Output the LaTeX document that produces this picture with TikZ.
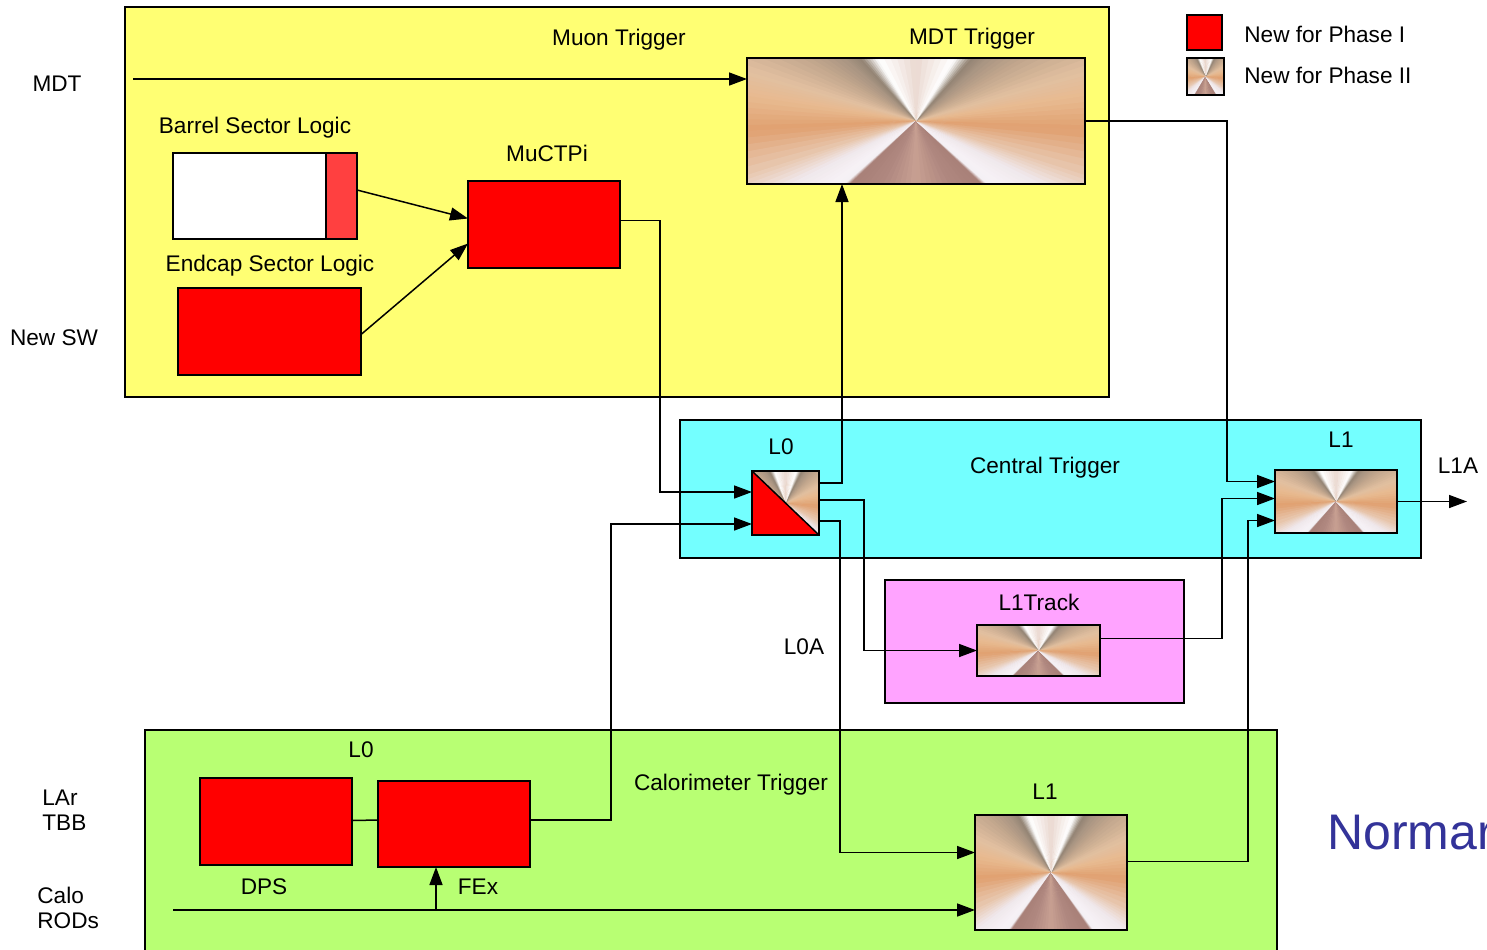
\documentclass[tikz,border=0pt]{standalone}
\usepackage{fontspec}
\setmainfont{Liberation Sans}
\usetikzlibrary{arrows.meta,calc}

\definecolor{myyellow}{HTML}{FFFF73}
\definecolor{mycyan}{HTML}{73FFFF}
\definecolor{mymag}{HTML}{FFA3FF}
\definecolor{mygreen}{HTML}{B8FF73}
\definecolor{mylred}{HTML}{FF4040}
\definecolor{normblue}{HTML}{333399}

\definecolor{cBase}{HTML}{E0B898}
\definecolor{cOr}{HTML}{E0A070}
\definecolor{cA}{HTML}{E8BA90}
\definecolor{cB}{HTML}{E2C0A0}
\definecolor{cC}{HTML}{C4A88E}
\definecolor{cD}{HTML}{A89482}
\definecolor{cE}{HTML}{938474}
\definecolor{cW}{HTML}{FFFFFF}
\definecolor{cP}{HTML}{EAD8D0}
\definecolor{cF}{HTML}{E8C8B0}
\definecolor{cG}{HTML}{F0E8EC}
\definecolor{cH}{HTML}{F6F2F6}
\definecolor{cI}{HTML}{F4F0F4}
\definecolor{cJ}{HTML}{A88078}
\definecolor{cK}{HTML}{B08880}
\definecolor{cL}{HTML}{C8A092}

\newcommand\conicfill[3]{%
 \pgfmathsetmacro\cxs{(#2)/2}%
 \pgfmathsetmacro\cys{-(#3)/2*((#2)/(#3))^0.4}%
 \begin{scope}
 \clip (#1.south west) rectangle (#1.north east);
 \fill[cBase] (#1.south west) rectangle (#1.north east);
 \begin{scope}[shift={(#1.center)}, xscale=\cxs, yscale=\cys]
  \foreach \a/\b/\ca/\cb in {-6/15/cOr/cA, 15/28/cA/cB, 28/45/cB/cC, 45/58/cC/cD,
     58/64/cD/cE, 64/71/cE/cW, 71/90/cW/cP, 90/109/cP/cW, 109/116/cW/cE,
     116/122/cE/cD, 122/135/cD/cC, 135/152/cC/cB, 152/165/cB/cA, 165/186/cA/cOr,
     186/210/cOr/cF, 210/222/cF/cG, 222/234/cG/cH, 234/238/cH/cI, 238/240/cI/cJ,
     240/254/cJ/cK, 254/270/cK/cL, 270/286/cL/cK, 286/300/cK/cJ, 300/302/cJ/cI,
     302/306/cI/cH, 306/318/cH/cG, 318/330/cG/cF, 330/354/cF/cOr}{
    \foreach \i in {0,...,5}{
      \pgfmathsetmacro\sa{\a+(\b-\a)*\i/6}
      \pgfmathsetmacro\sb{\a+(\b-\a)*(\i+1)/6+0.8}
      \pgfmathtruncatemacro\p{100-(\i+0.5)*100/6}
      \colorlet{wc}{\ca!\p!\cb}
      \fill[wc] (0,0) -- (\sa:3) -- (\sb:3) -- cycle;
    }
  }
 \end{scope}
 \end{scope}}

\newcommand\bx[6]{\node[#6, minimum width={(#4-#2)*0.5pt}, minimum height={(#5-#3)*0.5pt}] (#1) at ({(#2+#4)/2},{(#3+#5)/2}) {};}

\newcommand\phasetwo[5]{%
 \bx{#1}{#2}{#3}{#4}{#5}{box}
 \conicfill{#1}{#4-#2}{#5-#3}
 \draw[line width=0.75pt] (#1.south west) rectangle (#1.north east);}

\tikzset{
 box/.style={rectangle, inner sep=0pt, outer sep=0pt, line width=0.75pt},
 solidbox/.style={box, draw, fill=#1},
 lbl/.style={font=\fontsize{11.3}{13.5}\selectfont, inner sep=0pt, anchor=base},
 lbl2/.style={font=\fontsize{11.3}{12.5}\selectfont, inner sep=0pt, align=left, anchor=west},
 arr/.style={line width=0.75pt, -{Triangle[length=9pt,width=6.5pt]}},
 ln/.style={line width=0.75pt}
}

\begin{document}
\begin{tikzpicture}[x=0.5pt,y=-0.5pt]
\useasboundingbox (0,0) rectangle (1487,949);
\fill[white] (0,0) rectangle (1487,949);

% regions
\bx{muon}{125}{7}{1109}{397}{solidbox=myyellow}
\bx{central}{680}{420}{1421}{558}{solidbox=mycyan}
\bx{track}{885}{580}{1184}{703}{solidbox=mymag}
\bx{calo}{145}{730}{1277}{955}{solidbox=mygreen}

% muon boxes
\phasetwo{mdt}{747}{58}{1085}{184}
\bx{barrel}{173}{153}{326}{239}{solidbox=white}
\bx{bsl}{326}{153}{357}{239}{solidbox=mylred}
\bx{muctpi}{468}{181}{620}{268}{solidbox=red}
\bx{endcap}{178}{288}{361}{375}{solidbox=red}

% central
\bx{l0}{752}{471}{819}{535}{box}
\conicfill{l0}{67}{64}
\fill[red] (l0.north west) -- (l0.south east) -- (l0.south west) -- cycle;
\draw[ln] (l0.north west) -- (l0.south east);
\draw[ln] (l0.south west) rectangle (l0.north east);
\phasetwo{l1}{1275}{470}{1397}{533}
\phasetwo{trk}{977}{625}{1100}{676}

% calo
\bx{dps}{200}{778}{352}{865}{solidbox=red}
\bx{fex}{378}{781}{530}{867}{solidbox=red}
\phasetwo{cl1}{975}{815}{1127}{930}

% legend
\bx{leg1}{1187}{15}{1222}{50}{solidbox=red}
\phasetwo{leg2}{1187}{58}{1224}{95}

% labels
\node[lbl] (tmuon) at (619,45) {Muon Trigger};
\node[lbl] (tmdt) at (972,44) {MDT Trigger};
\node[lbl] (tmdtin) at (57,91) {MDT};
\node[lbl] (tbarrel) at (255,133) {Barrel Sector Logic};
\node[lbl] (tmuctpi) at (547,161) {MuCTPi};
\node[lbl] (tendcap) at (270,271) {Endcap Sector Logic};
\node[lbl] (tnewsw) at (54,345) {New SW};
\node[lbl] (tl0) at (781,454) {L0};
\node[lbl] (tcentral) at (1045,473) {Central Trigger};
\node[lbl] (tl1) at (1341,447) {L1};
\node[lbl] (tl1a) at (1458,473) {L1A};
\node[lbl] (ttrk) at (1039,610) {L1Track};
\node[lbl] (tl0a) at (804,654) {L0A};
\node[lbl] (tcl0) at (361,757) {L0};
\node[lbl] (tcalo) at (731,790) {Calorimeter Trigger};
\node[lbl] (tcl1) at (1045,799) {L1};
\node[lbl] (tdps) at (264,894) {DPS};
\node[lbl] (tfex) at (478,894) {FEx};
\node[lbl2] (tlar) at (42,810) {LAr\\TBB};
\node[lbl2] (tcalin) at (37,908) {Calo\\RODs};
\node[lbl, anchor=base west] (tleg1) at (1244,42) {New for Phase I};
\node[lbl, anchor=base west] (tleg2) at (1244,83) {New for Phase II};
\node[font=\fontsize{25}{30}\selectfont, text=normblue, inner sep=0pt, anchor=west] (tnorm) at (1327,833) {Normar};

% connectors
\coordinate (mdtin) at (133,79);
\draw[arr] (mdtin) -- (mdtin -| mdt.west);
\draw[arr] ($(bsl.east)+(0,-6)$) -- ($(muctpi.west)+(0,-6)$);
\draw[arr] ($(endcap.east)+(0,3)$) -- ($(muctpi.west)+(0,19)$);
\draw[arr] ($(muctpi.east)+(0,-4)$) -- ++(40,0) |- ($(l0.west)+(0,-11)$);
\draw[arr] ($(l0.north east)+(0,12)$) -| ($(mdt.south west)+(95,0)$);
\draw[arr] ($(l0.north east)+(0,29)$) -- ++(45,0) |- (trk.west);
\draw[arr] ($(l0.north east)+(0,50)$) -- ++(21,0) |- ($(cl1.west)+(0,-20)$);
\draw[arr] ($(fex.east)+(0,-4)$) -- ++(81,0) |- ($(l0.west)+(0,21)$);
\draw[ln] ($(dps.east)+(0,-1)$) -- ($(fex.west)+(0,-4)$);
\coordinate (caloin) at (173,910);
\coordinate (br) at (436,910);
\draw[arr] (caloin) -- (caloin -| cl1.west);
\draw[arr] (br) -- (br |- fex.south);
\draw[arr] (mdt.east) -- ++(142,0) |- ($(l1.west)+(0,-20)$);
\draw[arr] ($(trk.east)+(0,-12)$) -- ++(122,0) |- ($(l1.west)+(0,-3)$);
\draw[arr] ($(cl1.east)+(0,-11)$) -- ++(121,0) |- ($(l1.west)+(0,19)$);
\coordinate (l1aout) at (1467,503);
\draw[arr] (l1.east) -- (l1aout |- l1.east);
\end{tikzpicture}
\end{document}
